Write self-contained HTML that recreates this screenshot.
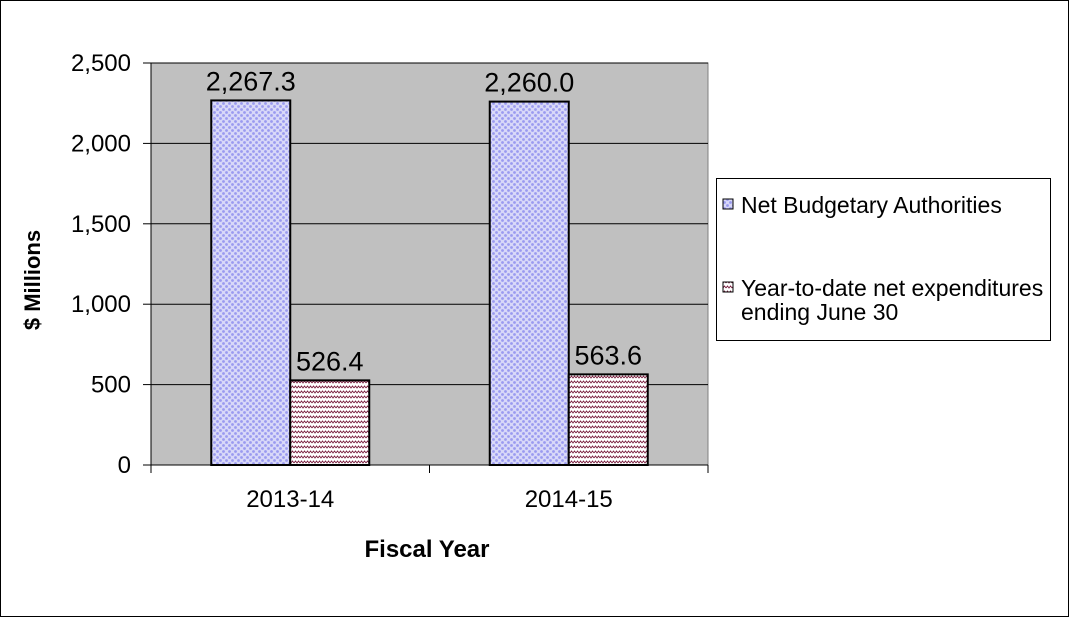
<!DOCTYPE html>
<html><head><meta charset="utf-8"><style>
body{margin:0;background:#fff;}
svg text{font-family:"Liberation Sans",Arial,sans-serif;}
</style></head><body>
<svg width="1069" height="617">
<defs>
<pattern id="dots" width="6" height="6" patternUnits="userSpaceOnUse">
<rect width="6" height="6" fill="#d8d8f8"/>
<circle cx="1.5" cy="1.5" r="1.4" fill="#9a9af0"/>
<circle cx="4.5" cy="4.5" r="1.4" fill="#9a9af0"/>
</pattern>
<pattern id="zig" width="6" height="5" patternUnits="userSpaceOnUse">
<rect width="6" height="5" fill="#fff"/>
<polyline points="0,3 1.5,1 3,3 4.5,1 6,3" fill="none" stroke="#7a2040" stroke-width="0.9"/>
</pattern>
</defs>
<rect x="0.5" y="0.5" width="1068" height="616" fill="#fff" stroke="#000"/>
<rect x="151" y="63" width="557" height="402" fill="#c0c0c0" stroke="#808080"/>
<g id="grid"></g>
<g id="bars"></g>
<text x="40" y="280" transform="rotate(-90 40 280)" style="font-size:22px" font-weight="bold" text-anchor="middle">$ Millions</text>
<text x="427" y="557" style="font-size:24px" font-weight="bold" text-anchor="middle">Fiscal Year</text>
<g>
<rect x="716.5" y="178.5" width="334" height="162" fill="#fff" stroke="#000"/>
<g>
<rect x="723" y="199" width="10" height="10" fill="url(#dots)" stroke="#000"/>
<text x="741" y="213" style="font-size:23px">Net Budgetary Authorities</text>
</g>
<g>
<rect x="723" y="282" width="10" height="10" fill="url(#zig)" stroke="#000"/>
<text x="741" y="296" style="font-size:23px">Year-to-date net expenditures</text>
<text x="741" y="320" style="font-size:23px">ending June 30</text>
</g>
</g>
</svg>
<script>
const categories=["2013-14","2014-15"];
const authorities=[2267.3,2260.0];
const expenditures=[526.4,563.6];
const yTicks=[0,500,1000,1500,2000,2500];
const yTickLabels=["0","500","1,000","1,500","2,000","2,500"];
const NS="http://www.w3.org/2000/svg";
const L=151,R=708,T=63,B=465,yMax=2500;
const y=v=>B-v/yMax*(B-T);
const bandW=(R-L)/categories.length;
const cx=i=>L+bandW*(i+0.5);
const bw=79;
function mk(tag,attrs,parent){const e=document.createElementNS(NS,tag);for(const k in attrs)e.setAttribute(k,attrs[k]);parent.appendChild(e);return e;}
const grid=document.getElementById('grid'),bars=document.getElementById('bars');
yTicks.forEach((t,i)=>{
  const g=mk('line',{x1:L,x2:R,y1:y(t),y2:y(t),stroke:'#000','stroke-width':1},grid);
  
  
  mk('line',{x1:L-8,x2:L,y1:y(t),y2:y(t),stroke:'#000'},grid);
  const tx=mk('text',{x:L-20,y:y(t)+8,style:'font-size:24px','text-anchor':'end'},grid);
  tx.textContent=yTickLabels[i];
  
  
});
mk('line',{x1:L,x2:L,y1:T,y2:B,stroke:'#000'},grid);
mk('line',{x1:L,x2:R,y1:B,y2:B,stroke:'#000'},grid);
for(let i=0;i<=categories.length;i++)mk('line',{x1:L+bandW*i,x2:L+bandW*i,y1:B,y2:B+8,stroke:'#000'},grid);
const fmt=v=>v.toLocaleString('en-US',{minimumFractionDigits:1,maximumFractionDigits:1});
categories.forEach((c,i)=>{
  const x0=cx(i)-bw;
  const a=mk('rect',{x:x0,y:y(authorities[i]),width:bw,height:B-y(authorities[i]),fill:'url(#dots)',stroke:'#000','stroke-width':2},bars);
  
  
  const e=mk('rect',{x:cx(i),y:y(expenditures[i]),width:bw,height:B-y(expenditures[i]),fill:'url(#zig)',stroke:'#000','stroke-width':2},bars);
  
  
  const l1=mk('text',{x:x0+bw/2,y:y(authorities[i])-10,style:'font-size:27px','text-anchor':'middle'},bars);
  l1.textContent=fmt(authorities[i]);
  
  
  const l2=mk('text',{x:cx(i)+bw/2,y:y(expenditures[i])-10,style:'font-size:27px','text-anchor':'middle'},bars);
  l2.textContent=fmt(expenditures[i]);
  
  
  const ct=mk('text',{x:cx(i),y:B+42,style:'font-size:24px','text-anchor':'middle'},bars);
  ct.textContent=c;
  
  
});
</script>
</body></html>
